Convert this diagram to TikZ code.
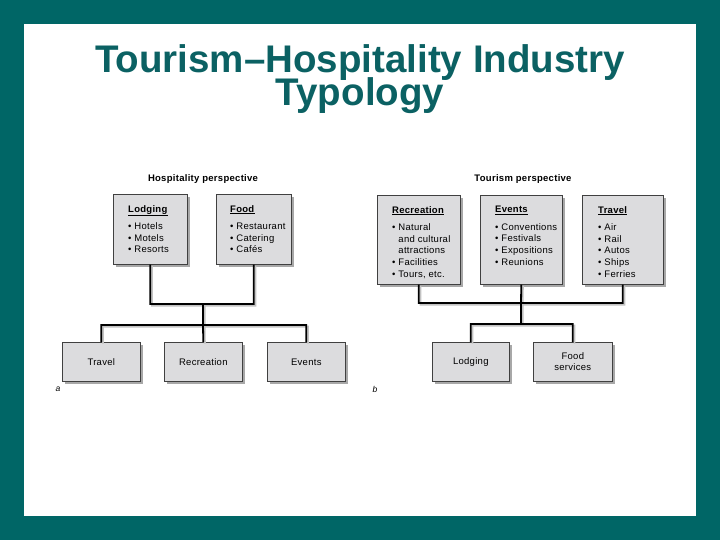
\documentclass[tikz,border=0pt]{standalone}
\usepackage{fontspec}
\setmainfont{Liberation Sans}
\newfontfamily\figfont[LetterSpace=3]{Liberation Sans}
\usetikzlibrary{positioning,shadows}
\definecolor{slideteal}{HTML}{006666}
\definecolor{titleteal}{HTML}{0B6163}
\definecolor{boxgray}{HTML}{DCDCDE}
\definecolor{shadegray}{HTML}{A8A8A8}

\tikzset{
  box/.style={draw=black!75, line width=0.6pt, fill=boxgray, inner sep=0pt,
    font=\figfont\fontsize{9.5}{10.5}\selectfont, align=center,
    drop shadow={shadow xshift=2.5pt, shadow yshift=-2.5pt, fill=shadegray, opacity=1}},
  list/.style={align=left, inner sep=0pt, font=\figfont\fontsize{9.5}{11.6}\selectfont},
  head/.style={inner sep=0pt, font=\figfont\bfseries\fontsize{9.5}{10}\selectfont},
  tag/.style={inner sep=0pt, font=\figfont\itshape\fontsize{8.5}{10}\selectfont},
  link/.style={line width=1.8pt,
    preaction={draw=shadegray!70, line width=1.8pt, transform canvas={shift={(1.6pt,-1.6pt)}}}},
}
\newcommand{\itm}{\textbullet\ }
\newcommand{\hdr}[1]{\underline{\textbf{#1}}\\[6pt]}
\newcommand{\titlefont}{\bfseries\fontsize{38.5}{33}\selectfont\lineskiplimit=-50pt\lineskip=0pt\relax}

\begin{document}
\begin{tikzpicture}[x=1pt, y=-1pt]

% slide frame
\fill[slideteal] (0,0) rectangle (720,540);
\fill[white] (24,24) rectangle (696,516);

% title (base = last line)
\node[text=titleteal, font=\titlefont, align=center, anchor=base]
  (title) at (360,106) {Tourism--Hospitality Industry\\Typology};

% (a) hospitality perspective
\node[head] (hosphead) at (203,179) {Hospitality perspective};

\node[box, anchor=north west, minimum width=74pt, minimum height=70pt] (lodg) at (113,194) {};
\node[box, anchor=north west, minimum width=75pt, minimum height=70pt] (food) at (216,194) {};
\node[list, below right=11pt and 15pt of lodg.north west] (lodgtxt)
  {\hdr{Lodging}\itm Hotels\\ \itm Motels\\ \itm Resorts};
\node[list, below right=11pt and 14pt of food.north west] (foodtxt)
  {\hdr{Food}\itm Restaurant\\ \itm Catering\\ \itm Cafés};

\node[box, anchor=north west, minimum width=78pt, minimum height=39pt] (travel) at (62,342) {Travel};
\node[box, anchor=north west, minimum width=78pt, minimum height=39pt] (recr) at (164,342) {Recreation};
\node[box, anchor=north west, minimum width=78pt, minimum height=39pt] (events) at (267,342) {Events};

\coordinate (hjoin) at (203,304);
\coordinate (hbus) at (203,325);
\draw[link] (lodg.south) |- (hjoin) -| (food.south)
  (hjoin) -- (hbus)
  (travel.north) |- (hbus) -| (events.north)
  (hbus) -- (recr.north);

\node[tag] (taga) at (58,389) {a};

% (b) tourism perspective
\node[head] (tourhead) at (523,179) {Tourism perspective};

\node[box, anchor=north west, minimum width=83pt, minimum height=89pt] (recn) at (377,195) {};
\node[box, anchor=north west, minimum width=82pt, minimum height=89pt] (evts) at (480,195) {};
\node[box, anchor=north west, minimum width=81pt, minimum height=89pt] (trav) at (582,195) {};
\node[list, below right=11pt and 15pt of recn.north west] (recntxt)
  {\hdr{Recreation}\itm Natural\\ \phantom{\itm}and cultural\\ \phantom{\itm}attractions\\ \itm Facilities\\ \itm Tours, etc.};
\node[list, below right=11pt and 15pt of evts.north west] (evtstxt)
  {\hdr{Events}\itm Conventions\\ \itm Festivals\\ \itm Expositions\\ \itm Reunions};
\node[list, below right=11pt and 16pt of trav.north west] (travtxt)
  {\hdr{Travel}\itm Air\\ \itm Rail\\ \itm Autos\\ \itm Ships\\ \itm Ferries};

\node[box, anchor=north west, minimum width=77pt, minimum height=39pt] (lodgb) at (432,342) {Lodging};
\node[box, anchor=north west, minimum width=79pt, minimum height=39pt] (foodb) at (533,342) {Food\\services};

\coordinate (tjoin) at (521,303);
\coordinate (tbus) at (521,324);
\draw[link] (recn.south) |- (tjoin) -| (trav.south)
  (evts.south) -- (tjoin) -- (tbus)
  (lodgb.north) |- (tbus) -| (foodb.north);

\node[tag] (tagb) at (375,389) {b};

\end{tikzpicture}
\end{document}
